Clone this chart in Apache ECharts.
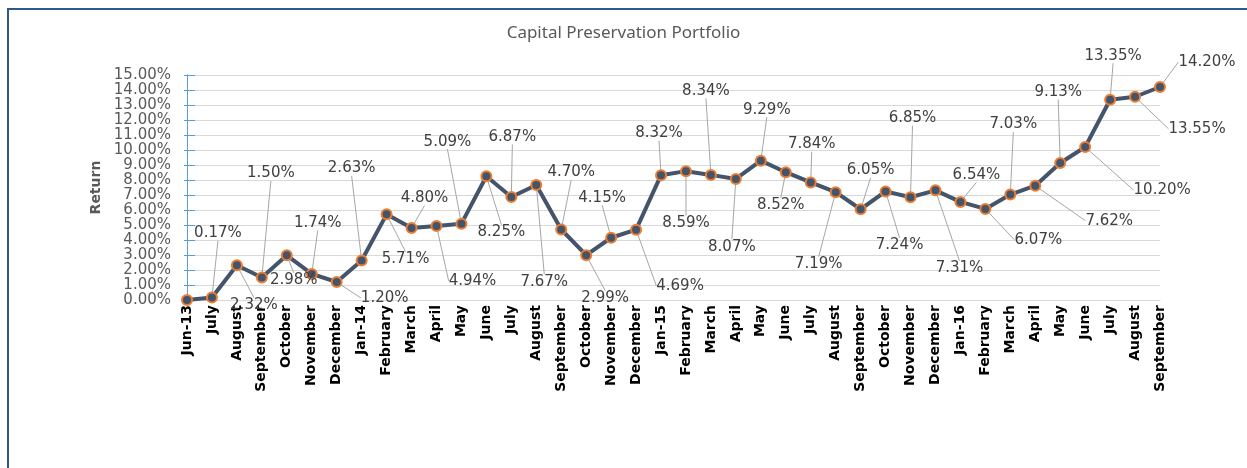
<!DOCTYPE html>
<html>
<head>
<meta charset="utf-8">
<script src="https://cdn.jsdelivr.net/npm/echarts@6/dist/echarts.min.js"></script>
<style>
  html, body { margin: 0; padding: 0; background: #fff; }
  #chart { width: 1247px; height: 468px; }
</style>
</head>
<body>
<div id="chart"></div>
<script>
var months = ['Jun-13', 'July', 'August', 'September', 'October', 'November', 'December',
  'Jan-14', 'February', 'March', 'April', 'May', 'June', 'July', 'August', 'September',
  'October', 'November', 'December', 'Jan-15', 'February', 'March', 'April', 'May', 'June',
  'July', 'August', 'September', 'October', 'November', 'December', 'Jan-16', 'February',
  'March', 'April', 'May', 'June', 'July', 'August', 'September'];

var returns = [0, 0.17, 2.32, 1.50, 2.98, 1.74, 1.20, 2.63, 5.71, 4.80,
  4.94, 5.09, 8.25, 6.87, 7.67, 4.70, 2.99, 4.15, 4.69, 8.32,
  8.59, 8.34, 8.07, 9.29, 8.52, 7.84, 7.19, 6.05, 7.24, 6.85,
  7.31, 6.54, 6.07, 7.03, 7.62, 9.13, 10.20, 13.35, 13.55, 14.20];

// where each data label sits, relative to its point (px)
var labelDx = [0, 6, 17, 9, 7, 6, 48, -10, 19, 13, 36, -14, 15, 1, 8, 10, 19, -9, 44, -2,
  0, -5, -4, 6, -5, 1, -17, 10, 14, 2, 24, 16, 53, 3, 74, -2, 77, 3, 62, 47];
var labelDy = [0, -64, 40, -104, 25, -51, 16, -92, 45, -30, 55, -82, 56, -60, 97, -57, 43, -40, 56, -42,
  52, -84, 68, -51, 33, -38, 72, -39, 54, -79, 78, -27, 31, -70, 35, -71, 43, -44, 32, -25];

var chartDom = document.getElementById('chart');
var myChart = echarts.init(chartDom);

var seriesData = returns.map(function (v, i) {
  if (i === 0) return { value: v, label: { show: false } };
  return v;
});

var option = {
  animation: false,
  backgroundColor: '#ffffff',
  title: {
    text: 'Capital Preservation Portfolio',
    left: 'center',
    top: 20,
    textStyle: { color: '#595959', fontSize: 17, fontWeight: 'normal', fontFamily: 'Noto Sans' }
  },
  graphic: [{
    type: 'rect',
    shape: { x: 8, y: 9, width: 1300, height: 500 },
    style: { fill: null, stroke: '#2b5b88', lineWidth: 2 },
    silent: true
  }],
  grid: { left: 187, right: 87, top: 75, bottom: 168 },
  xAxis: {
    type: 'category',
    data: months,
    boundaryGap: false,
    axisLine: { lineStyle: { color: '#d9d9d9', width: 1 } },
    axisTick: { show: false },
    axisLabel: {
      interval: 0,
      rotate: 90,
      margin: 5,
      color: '#000000',
      fontWeight: 'bold',
      fontSize: 14,
      fontFamily: 'DejaVu Sans'
    }
  },
  yAxis: [{
    type: 'value',
    min: 0,
    max: 15,
    interval: 1,
    name: 'Return',
    nameLocation: 'middle',
    nameGap: 82,
    nameTextStyle: { color: '#595959', fontWeight: 'bold', fontSize: 14, fontFamily: 'DejaVu Sans' },
    axisLine: { show: true, lineStyle: { color: '#5b9bd5', width: 1 } },
    axisTick: { show: true, length: 3, lineStyle: { color: '#5b9bd5' } },
    axisLabel: {
      margin: 16,
      color: '#595959',
      fontSize: 15,
      fontFamily: 'DejaVu Sans',
      formatter: function (v) { return v.toFixed(2) + '%'; }
    },
    splitLine: { lineStyle: { color: '#d9d9d9', width: 1 } }
  }, {
    type: 'value',
    min: 0,
    max: 15,
    interval: 1,
    position: 'left',
    axisLine: { show: true, lineStyle: { color: '#5b9bd5', width: 1 } },
    axisTick: { show: true, inside: true, length: 8, lineStyle: { color: '#5b9bd5' } },
    axisLabel: { show: false },
    splitLine: { show: false }
  }],
  series: [{
    type: 'line',
    yAxisIndex: 0,
    data: seriesData,
    symbol: 'circle',
    symbolSize: 10,
    lineStyle: { color: '#44546a', width: 4 },
    itemStyle: { color: '#44546a', borderColor: '#ed7d31', borderWidth: 2 },
    label: {
      show: true,
      position: 'inside',
      color: '#404040',
      fontSize: 15,
      fontFamily: 'DejaVu Sans',
      formatter: function (p) { return p.value.toFixed(2) + '%'; }
    },
    labelLine: {
      show: true,
      lineStyle: { color: '#a6a6a6', width: 1 }
    },
    labelLayout: function (params) {
      return { dx: labelDx[params.dataIndex], dy: labelDy[params.dataIndex], hideOverlap: false };
    },
    z: 3
  }]
};

myChart.setOption(option);
</script>
</body>
</html>
